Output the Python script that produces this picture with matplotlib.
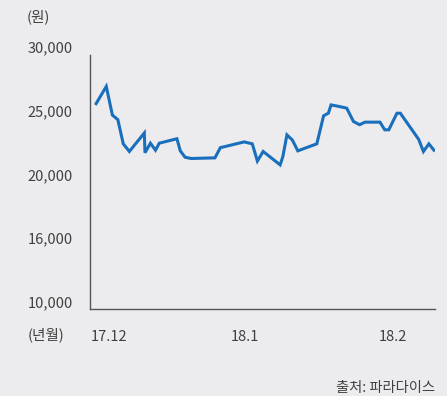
import numpy as np
import matplotlib.pyplot as plt

plt.rcParams['font.family'] = ['Noto Sans CJK KR', 'DejaVu Sans']

# trading-day position and closing price (원)
days = [0, 1.5, 2.4, 3.2, 4.0, 4.9, 7.1, 7.2, 8.0, 8.75, 9.3, 11.9, 12.4, 13.1,
        14.0, 17.5, 18.3, 21.8, 23.0, 23.75, 24.6, 27.1, 27.5, 28.1, 28.9, 29.7,
        32.5, 33.5, 34.2, 34.6, 35.6, 36.9, 37.9, 38.8, 39.6, 41.8, 42.5, 43.1,
        44.3, 44.8, 47.5, 48.2, 49.0, 49.75]
price = [25550, 26900, 24650, 24300, 22400, 21800, 23250, 21700, 22450, 21900,
         22450, 22800, 21850, 21350, 21250, 21300, 22100, 22550, 22400, 21050,
         21800, 20750, 21400, 23100, 22700, 21850, 22400, 24600, 24800, 25450,
         25350, 25200, 24150, 23900, 24100, 24100, 23500, 23500, 24800, 24800,
         22750, 21800, 22400, 21900]

month_pos = [1.9, 21.9, 43.7]
month_labels = ['17.12', '18.1', '18.2']

# axis is broken below 20,000: the 16,000 label sits where 15,000 would be
ytick_vals = [10000, 15000, 20000, 25000, 30000]
ytick_labels = ['10,000', '16,000', '20,000', '25,000', '30,000']

bg = '#ececee'
txt = '#404040'

fig = plt.figure(figsize=(4.47, 3.96), dpi=100, facecolor=bg)
ax = fig.add_axes([0.2013, 0.2197, 0.7718, 0.6667], facecolor=bg)

ax.plot(days, price, color='#1a6fbd', linewidth=2.2, solid_joinstyle='miter')

ax.set_xlim(-0.9, 49.9)
ax.set_ylim(9450, 30150)

ax.set_yticks(ytick_vals)
ax.set_yticklabels(ytick_labels)
ax.set_xticks(month_pos)
ax.set_xticklabels(month_labels)
ax.tick_params(axis='both', length=0, labelsize=10.5, colors=txt)
ax.tick_params(axis='y', pad=12.5)
ax.tick_params(axis='x', pad=15)

for s in ['top', 'right']:
    ax.spines[s].set_visible(False)
for s in ['left', 'bottom']:
    ax.spines[s].set_color('#555555')
    ax.spines[s].set_linewidth(1.0)
ax.spines['left'].set_bounds(9450, 29400)

fig.text(27 / 447, 1 - 17 / 396, '(원)', fontsize=10.5, color=txt, ha='left', va='center')
fig.text(28 / 447, 1 - 335 / 396, '(년월)', fontsize=10.5, color=txt, ha='left', va='center')
fig.text(435 / 447, 1 - 388 / 396, '출처: 파라다이스', fontsize=10.3, color=txt, ha='right', va='center')

fig.savefig('out.png', dpi=100, facecolor=bg)
